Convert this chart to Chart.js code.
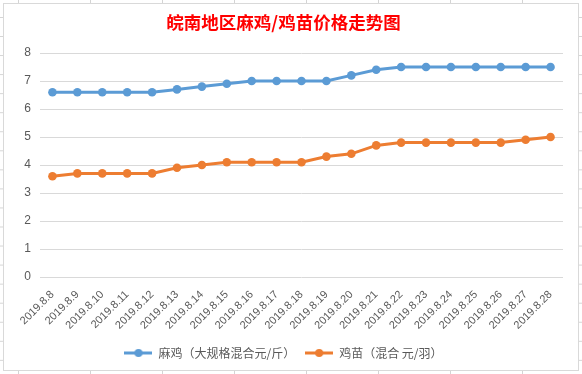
<!DOCTYPE html>
<html>
<head>
<meta charset="utf-8">
<script src="https://cdn.jsdelivr.net/npm/chart.js@4.4.0/dist/chart.umd.min.js"></script>
<style>
  html, body { margin: 0; padding: 0; }
  body {
    width: 582px; height: 374px; overflow: hidden; position: relative;
    background-color: #fff;
    background-image:
      linear-gradient(to right, #d4d4d4 1px, transparent 1px),
      linear-gradient(to bottom, #d4d4d4 1px, transparent 1px);
    background-size: 72px 100%, 100% 19.06px;
    background-position: 18px 0, 0 17px;
  }
  #box {
    position: absolute; left: 3px; top: 3px; width: 574px; height: 366px;
    border: 1px solid #d9d9d9; background: #fff;
  }
</style>
</head>
<body>
<div id="box"><canvas id="chart" width="574" height="366"></canvas></div>
<script>
/* ── Data ─────────────────────────────────────────────── */
const DATES = [
  '2019.8.8', '2019.8.9', '2019.8.10', '2019.8.11', '2019.8.12', '2019.8.13', '2019.8.14',
  '2019.8.15', '2019.8.16', '2019.8.17', '2019.8.18', '2019.8.19', '2019.8.20', '2019.8.21',
  '2019.8.22', '2019.8.23', '2019.8.24', '2019.8.25', '2019.8.26', '2019.8.27', '2019.8.28',
];
const MAJI = [6.6, 6.6, 6.6, 6.6, 6.6, 6.7, 6.8, 6.9, 7.0, 7.0, 7.0, 7.0, 7.2, 7.4, 7.5, 7.5, 7.5, 7.5, 7.5, 7.5, 7.5];
const JIMIAO = [3.6, 3.7, 3.7, 3.7, 3.7, 3.9, 4.0, 4.1, 4.1, 4.1, 4.1, 4.3, 4.4, 4.7, 4.8, 4.8, 4.8, 4.8, 4.8, 4.9, 5.0];
const Y_TICKS = [0, 1, 2, 3, 4, 5, 6, 7, 8];

const BLUE = '#5b9bd5';
const ORANGE = '#ed7d31';

/* legend marker: short line with a dot, like Excel */
function legendMarker(color) {
  const c = document.createElement('canvas');
  c.width = 28; c.height = 10;
  const g = c.getContext('2d');
  g.strokeStyle = color; g.lineWidth = 3;
  g.beginPath(); g.moveTo(0, 5); g.lineTo(28, 5); g.stroke();
  g.fillStyle = color;
  g.beginPath(); g.arc(14, 5, 4, 0, Math.PI * 2); g.fill();
  return c;
}

const line = (label, data, color) => ({
  label, data,
  borderColor: color,
  backgroundColor: color,
  borderWidth: 3,
  pointRadius: 4.3,
  pointHoverRadius: 5,
  pointBorderWidth: 0,
  tension: 0,
  marker: legendMarker(color),
});

new Chart(document.getElementById('chart').getContext('2d'), {
  type: 'line',
  data: {
    labels: DATES,
    datasets: [
      line('麻鸡（大规格混合元/斤）', MAJI, BLUE),
      line('鸡苗（混合 元/羽）', JIMIAO, ORANGE),
    ],
  },
  options: {
    responsive: false,
    animation: false,
    layout: { padding: { left: 0, right: 15, top: 0, bottom: 1 } },
    plugins: {
      title: {
        display: true,
        text: '皖南地区麻鸡/鸡苗价格走势图',
        color: '#ff0000',
        font: { family: "'Noto Sans CJK SC', sans-serif", size: 17.5, weight: 'bold' },
        padding: { top: 8, bottom: 20 },
      },
      legend: {
        position: 'bottom',
        labels: {
          usePointStyle: true,
          pointStyleWidth: 28,
          padding: 10,
          color: '#595959',
          font: { family: "'Noto Sans CJK SC', sans-serif", size: 12 },
          generateLabels: chart => chart.data.datasets.map((ds, i) => ({
            text: ds.label,
            pointStyle: ds.marker,
            fillStyle: ds.borderColor,
            strokeStyle: ds.borderColor,
            lineWidth: 0,
            fontColor: '#595959',
            hidden: false,
            datasetIndex: i,
          })),
        },
      },
      tooltip: { enabled: false },
    },
    scales: {
      x: {
        offset: true,
        grid: { display: false },
        border: { display: false },
        afterFit: s => { s.height = 60; },
        ticks: {
          color: '#595959',
          maxRotation: 45,
          minRotation: 45,
          autoSkip: false,
          padding: 3,
          font: { family: "'Liberation Sans', sans-serif", size: 11 },
        },
      },
      y: {
        min: 0,
        max: 8,
        afterBuildTicks: s => { s.ticks = Y_TICKS.map(v => ({ value: v })); },
        afterFit: s => { s.width = 36; },
        grid: { color: '#d9d9d9', lineWidth: 1, drawTicks: false },
        border: { display: false },
        ticks: {
          color: '#595959',
          padding: 9,
          font: { family: "'Liberation Sans', sans-serif", size: 12 },
        },
      },
    },
  },
});
</script>
</body>
</html>
